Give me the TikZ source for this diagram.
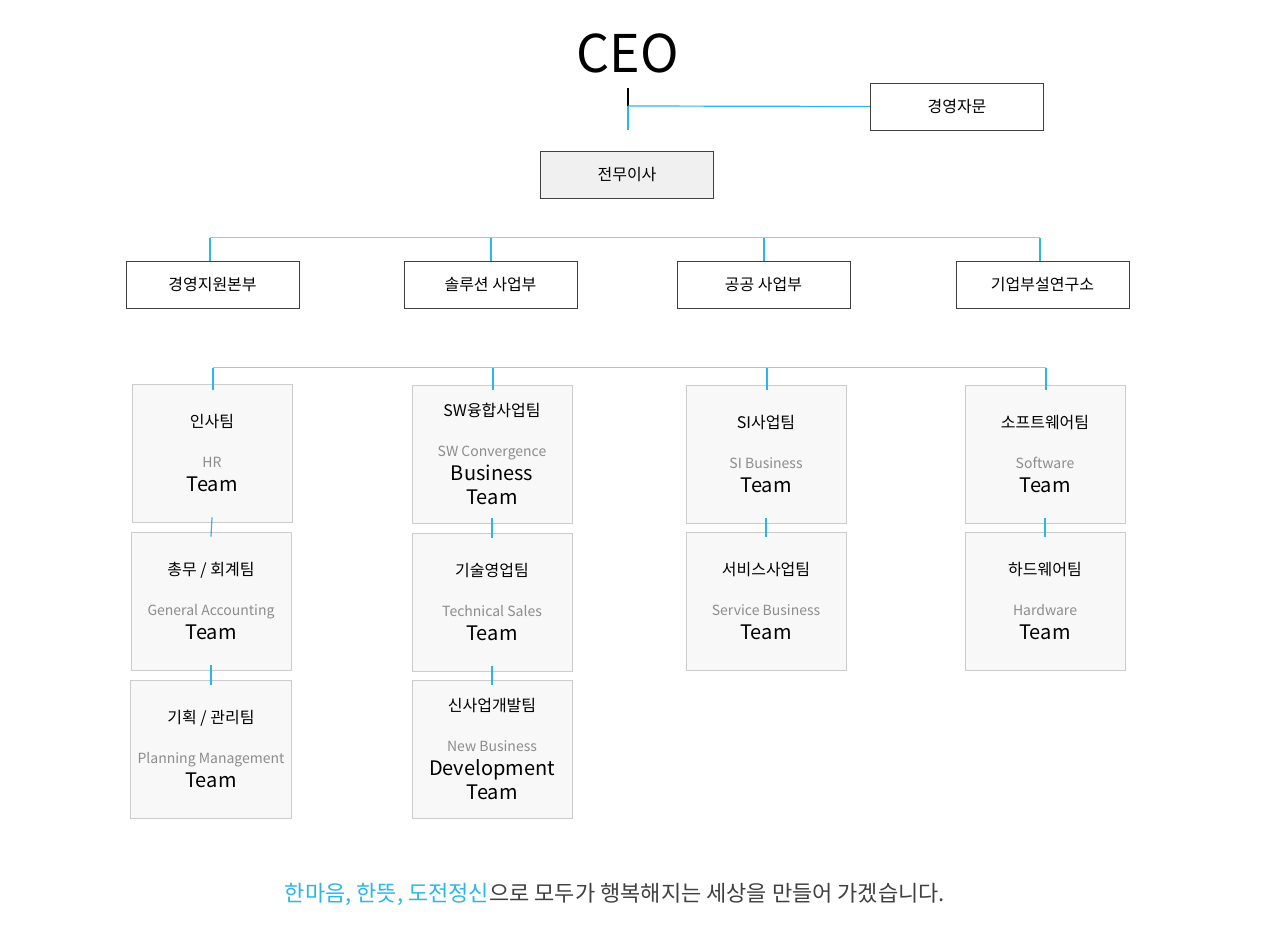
\documentclass[tikz,border=0pt]{standalone}
\usepackage{fontspec}
\setmainfont{Noto Sans CJK KR}
\usetikzlibrary{positioning}
\definecolor{lineblue}{HTML}{29B6E8}
\definecolor{teamgray}{HTML}{F8F8F8}
\tikzset{
  headbox/.style = {draw = black!75, minimum width = 86.5pt, minimum height = 23.5pt, font = \fontsize{8}{9}\selectfont},
  teambox/.style = {draw = black!20, fill = teamgray, minimum width = 80pt, minimum height = 69pt, align = center},
  bluelink/.style = {lineblue, line width = 0.6pt},
  graylink/.style = {black!25, line width = 0.5pt}
}
\newcommand{\teamtext}[2]{\fontsize{8}{9}\selectfont #1\\[8pt]\color{black!45}\fontsize{7}{8.5}\selectfont #2}
\begin{document}
\begin{tikzpicture}[x = 0.5pt, y = -0.5pt]
    \useasboundingbox (0, 0) rectangle (1267, 940);

    % top
    \node (ceo) at (628, 53) {\fontsize{26}{30}\selectfont CEO};
    \node[headbox] (advice) at (957, 106.5) {경영자문};
    \node[headbox, fill = black!6] (exec) at (627, 174.5) {전무이사};
    \coordinate (ceo_bot) at (628, 88);
    \coordinate (ceo_mid) at (628, 106);
    \draw[black, line width = 0.8pt] (ceo_bot) -- (ceo_mid);
    \draw[bluelink] (ceo_mid) -- (628, 130);
    \draw[bluelink] (ceo_mid) -- (advice.west);

    % divisions
    \node[headbox] (div_a) at (212.5, 285) {경영지원본부};
    \node[headbox] (div_b) at (490.5, 285) {솔루션 사업부};
    \node[headbox] (div_c) at (763.5, 285) {공공 사업부};
    \node[headbox] (div_d) at (1042.5, 285) {기업부설연구소};
    \draw[graylink] (210, 238) -- (1040, 238);
    \foreach \x/\d in {210/div_a, 491/div_b, 764/div_c, 1040/div_d}
        \draw[bluelink] (\x, 238) -- (\x, 261);

    % teams
    \node[teambox] (hr) at (212, 453) {\teamtext{인사팀}{HR\\Team}};
    \node[teambox] (ga) at (211, 601) {\teamtext{총무 / 회계팀}{General Accounting\\Team}};
    \node[teambox] (pm) at (211, 749) {\teamtext{기획 / 관리팀}{Planning Management\\Team}};
    \node[teambox] (sw) at (492, 454) {\teamtext{SW융합사업팀}{SW Convergence\\Business\\Team}};
    \node[teambox] (ts) at (492, 602) {\teamtext{기술영업팀}{Technical Sales\\Team}};
    \node[teambox] (nb) at (492, 749) {\teamtext{신사업개발팀}{New Business\\Development\\Team}};
    \node[teambox] (si) at (766, 454) {\teamtext{SI사업팀}{SI Business\\Team}};
    \node[teambox] (sb) at (766, 601) {\teamtext{서비스사업팀}{Service Business\\Team}};
    \node[teambox] (sft) at (1045, 454) {\teamtext{소프트웨어팀}{Software\\Team}};
    \node[teambox] (hw) at (1045, 601) {\teamtext{하드웨어팀}{Hardware\\Team}};
    \draw[graylink] (213, 368) -- (1046, 368);
    \foreach \x in {213, 493, 767, 1046}
        \draw[bluelink] (\x, 368) -- (\x, 390);
    \foreach \a/\b in {hr/ga, ga/pm, sw/ts, ts/nb, si/sb, sft/hw}
        \draw[bluelink] ([yshift = 2.5pt] \a.south) -- ([yshift = -2.5pt] \b.north);

    % motto
    \node (motto) at (615, 894) {\fontsize{11}{13}\selectfont\color{black!75}{\color{lineblue}한마음, 한뜻, 도전정신}으로 모두가 행복해지는 세상을 만들어 가겠습니다.};
\end{tikzpicture}
\end{document}
